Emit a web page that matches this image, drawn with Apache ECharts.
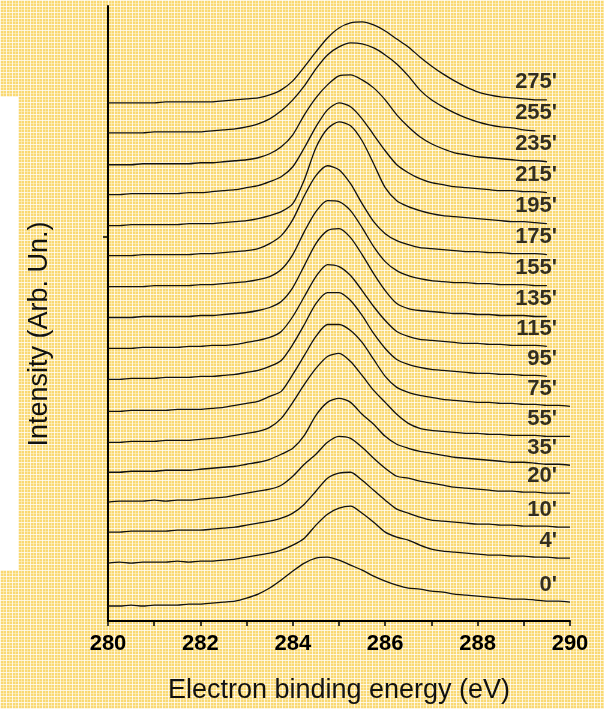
<!DOCTYPE html>
<html>
<head>
<meta charset="utf-8">
<title>C 1s spectra vs. time</title>
<script src="https://cdn.jsdelivr.net/npm/echarts@6/dist/echarts.min.js"></script>
<style>
  html, body { margin: 0; padding: 0; }
  body {
    width: 604px; height: 709px; overflow: hidden;
    background-color: #f9d873;
    background-image:
      repeating-linear-gradient(90deg, rgba(255,255,255,0.75) 0 1px, rgba(255,255,255,0) 1px 3px, rgba(255,250,220,0.45) 3px 4px, rgba(255,255,255,0) 4px 6px),
      repeating-linear-gradient(0deg, rgba(255,255,255,0.75) 0 1px, rgba(255,255,255,0) 1px 3px, rgba(255,250,220,0.45) 3px 4px, rgba(255,255,255,0) 4px 6px);
  }
  #chart { width: 604px; height: 709px; }
</style>
</head>
<body>
<div id="chart"></div>
<script>
// Binding-energy grid (eV) shared by all spectra
const energy = [280,280.25,280.5,280.75,281,281.25,281.5,281.75,282,282.25,282.5,282.75,
  283,283.25,283.5,283.75,284,284.25,284.5,284.75,285,285.25,285.5,285.75,
  286,286.25,286.5,286.75,287,287.25,287.5,287.75,288,288.25,288.5,288.75,
  289,289.25,289.5,289.75,290];

// Exposure times, bottom to top
const times = ["0'", "4'", "10'", "20'", "35'", "55'", "75'", "95'", "115'", "135'",
  "155'", "175'", "195'", "215'", "235'", "255'", "275'"];

// Vertical offset of each spectrum in the stack (arb. units)
const offsets = [15, 58, 89, 119, 149, 179, 210, 242, 273, 304, 335, 366, 396, 427, 457, 489, 519];

// Intensity above each spectrum's baseline (arb. units), null where the scan stops
const s0   = [0,0,1,0,1,1,1,2,2, 3,4,5,8,12,18,26,35, 43,48,49,46,41,36,30,25, 21,18,17,15,14,12,11,10, 9,8,7,7,6,5,5,4];
const s4   = [0,1,0,1,1,1,2,1,2, 2,3,4,6,8,10,13,18, 25,38,49,55,57,50,41,31, 26,23,18,14,12,11,10,9, 8,8,7,7,6,6,5,5];
const s10  = [0,0,1,1,1,1,2,2,2, 3,4,5,7,9,11,14,19, 28,41,54,59,60,52,42,32, 23,19,15,12,11,10,9,8, 8,7,7,6,6,6,5,5];
const s20  = [0,1,1,1,2,1,2,2,3, 4,5,7,9,11,13,17,26, 38,48,60,66,64,55,44,34, 26,24,21,19,17,15,14,13, 12,11,11,10,10,9,9,9];
const s35  = [0,0,1,1,1,2,2,2,3, 4,5,6,8,10,13,18,24, 37,57,70,74,70,58,48,36, 28,24,21,19,17,15,14,13, 12,11,10,10,9,8,8,7];
const s55  = [0,0,1,1,1,2,2,2,3, 4,5,7,9,11,15,24,40, 58,74,86,89,81,67,52,40, 28,19,14,12,11,10,9,9, 8,8,7,7,7,6,6,6];
const s75  = [0,0,1,1,1,1,2,2,2, 3,4,6,8,10,15,20,37, 56,75,87,87,81,69,52,35, 24,19,16,14,12,11,10,9, 9,8,8,7,7,6,6,5];
const s95  = [0,0,1,1,1,2,2,2,3, 3,4,5,7,9,13,19,35, 55,76,87,87,79,64,46,31, 20,15,12,10,9,8,7,6, 6,5,5,4,4,3,null,null];
const s115 = [0,0,0,1,1,1,1,2,2, 3,3,4,6,8,11,17,32, 52,72,84,82,73,58,42,28, 17,12,9,8,7,6,5,5, 4,4,3,3,3,2,null,null];
const s135 = [0,0,0,1,1,1,1,1,2, 2,3,4,5,7,10,16,30, 52,74,87,89,80,63,44,27, 14,9,7,6,5,4,4,3, 3,2,2,2,1,1,null,null];
const s155 = [0,0,0,0,1,1,1,1,2, 2,3,4,5,7,10,17,32, 55,75,86,85,76,59,40,25, 16,11,8,6,5,4,4,3, 3,2,2,2,1,1,null,null];
const s175 = [0,0,0,1,1,1,1,1,2, 2,3,4,5,7,12,20,36, 60,80,90,86,72,52,34,22, 15,11,8,7,6,5,4,4, 3,3,2,2,2,1,null,null];
const s195 = [0,0,1,1,1,1,1,2,2, 2,3,4,5,7,10,14,22, 46,78,97,104,100,85,62,38, 25,19,15,12,10,9,8,7, 6,5,4,4,3,2,null,null];
const s215 = [0,0,1,1,1,1,1,2,2, 3,4,5,7,9,13,18,28, 47,68,85,92,88,76,60,44, 30,22,16,12,10,8,7,6, 5,4,4,3,3,2,null,null];
const s235 = [0,0,0,1,1,1,1,1,2, 2,3,4,5,7,11,18,30, 50,67,80,89,90,85,77,65, 50,38,28,21,16,12,10,8, 7,6,5,4,4,3,null,null];
const s255 = [0,0,0,0,1,1,1,1,1, 2,3,4,6,9,14,22,33, 47,64,78,86,90,89,85,78, 69,57,43,33,26,20,15,11, 8,6,5,3,2,null,null,null];
const s275 = [0,0,0,0,0,1,1,1,1, 1,2,3,4,5,8,13,22, 36,51,65,75,80,81,78,72, 64,56,46,37,29,22,16,11, 8,6,5,4,3,3,null,null];

const spectra = [s0, s4, s10, s20, s35, s55, s75, s95, s115, s135, s155, s175, s195, s215, s235, s255, s275];

const chart = echarts.init(document.getElementById('chart'), null, { renderer: 'canvas' });

const FONT = 'Arial, "Liberation Sans", sans-serif';
const series = [];
const labelData = [];
spectra.forEach((vals, i) => {
  const pts = [];
  vals.forEach((v, j) => { if (v != null) pts.push([energy[j], offsets[i] + v]); });
  series.push({
    type: 'line',
    data: pts,
    showSymbol: false,
    smooth: 0.25,
    silent: true,
    lineStyle: { color: '#111', width: 1.3 },
    z: 3
  });
  // time tag sits just above the high-energy end of its trace
  const last = pts[pts.length - 1][1];
  labelData.push({ value: [289.72, last + 17.5], name: times[i] });
});

series.push({
  type: 'scatter',
  data: labelData,
  symbolSize: 0,
  silent: true,
  label: {
    show: true,
    position: 'left',
    distance: 0,
    formatter: '{b}',
    color: '#000',
    fontFamily: FONT,
    fontWeight: 'bold',
    fontSize: 22
  },
  z: 4
});

chart.setOption({
  backgroundColor: 'transparent',
  animation: false,
  grid: { left: 108, right: 34, top: 6, bottom: 87, containLabel: false },
  xAxis: {
    type: 'value',
    min: 280,
    max: 290,
    interval: 2,
    name: 'Electron binding energy (eV)',
    nameLocation: 'middle',
    nameGap: 56,
    nameTextStyle: { color: '#111', fontSize: 27, fontFamily: FONT },
    axisLine: { show: true, onZero: false, lineStyle: { color: '#000', width: 2 } },
    axisTick: { show: true, length: 5, lineStyle: { color: '#000', width: 1.5 } },
    minorTick: { show: true, splitNumber: 2, length: 5, lineStyle: { color: '#000', width: 1.5 } },
    axisLabel: {
      color: '#000', fontSize: 22, fontWeight: 'bold', margin: 12,
      fontFamily: FONT
    },
    splitLine: { show: false },
    minorSplitLine: { show: false }
  },
  yAxis: {
    type: 'value',
    min: 0,
    max: 616,
    axisLine: { show: true, onZero: false, lineStyle: { color: '#000', width: 2 } },
    axisTick: { show: true, length: 5, customValues: [385], lineStyle: { color: '#000', width: 1.5 } },
    axisLabel: { show: false },
    splitLine: { show: false }
  },
  graphic: [
    {
      type: 'rect',
      left: 0, top: 97,
      shape: { width: 18, height: 473 },
      style: { fill: '#ffffff' },
      z: -1
    },
    {
      type: 'text',
      x: 40, y: 334,
      rotation: Math.PI / 2,
      style: {
        text: 'Intensity (Arb. Un.)',
        fill: '#111',
        font: '27px ' + FONT,
        align: 'center',
        verticalAlign: 'middle'
      }
    }
  ],
  series: series
});
</script>
</body>
</html>
